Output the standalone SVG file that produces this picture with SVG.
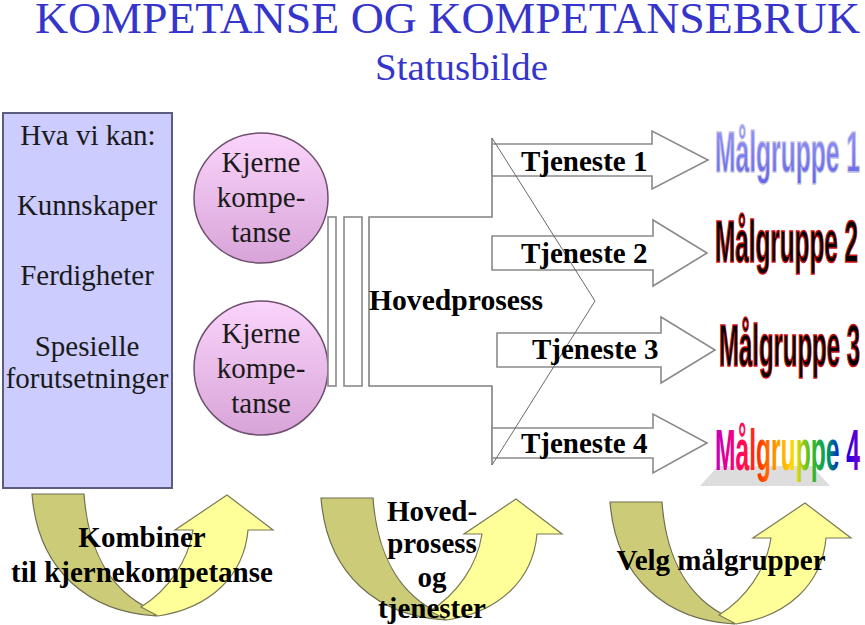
<svg xmlns="http://www.w3.org/2000/svg" width="865" height="625" viewBox="0 0 865 625">
<style>
.title{fill:#3535cc;font-family:"Liberation Serif",serif;font-weight:normal;}
.lbl{font-family:"Liberation Serif",serif;font-weight:normal;font-size:29px;fill:#1a1a1a;text-anchor:middle;}
.blbl{font-family:"Liberation Serif",serif;font-size:29px;font-weight:bold;fill:#000;}
.barrow{fill:#fff;stroke:#8a8a8a;stroke-width:1.6;}
.bar{fill:#fff;stroke:#8a8a8a;stroke-width:1.6;}
.conn{fill:none;stroke:#808080;stroke-width:1.6;}
.diag{fill:none;stroke:#6a6a6a;stroke-width:1;}
.wa{font-family:"Liberation Sans",Arial,sans-serif;font-weight:bold;}
.olive{fill:#cccc78;stroke:#6e6e50;stroke-width:1.2;}
.yellow{fill:#ffff99;stroke:#7a7a55;stroke-width:1.2;}
.circ{fill:url(#pink);stroke:#6e4f6e;stroke-width:1.5;}
</style>
<defs>
<linearGradient id="pink" x1="0" y1="0" x2="0" y2="1">
<stop offset="0" stop-color="#fad4fa"/>
<stop offset="1" stop-color="#d8a4d8"/>
</linearGradient>
<linearGradient id="rainbow" gradientUnits="userSpaceOnUse" x1="0" y1="0" x2="145" y2="0">
<stop offset="0" stop-color="#c000c0"/>
<stop offset="0.15" stop-color="#ff0070"/>
<stop offset="0.3" stop-color="#ff3300"/>
<stop offset="0.42" stop-color="#ff9900"/>
<stop offset="0.55" stop-color="#ffdd00"/>
<stop offset="0.66" stop-color="#44bb22"/>
<stop offset="0.78" stop-color="#009966"/>
<stop offset="0.88" stop-color="#0000ee"/>
<stop offset="1" stop-color="#7700cc"/>
</linearGradient>
<linearGradient id="blueWA" x1="0" y1="0" x2="0" y2="1">
<stop offset="0" stop-color="#9a9aff"/>
<stop offset="1" stop-color="#6464e8"/>
</linearGradient>
<g id="uturn">
<path class="olive" d="M32,494 L84,494 C88,550 110,590 150,609 L156,616 C90,612 38,572 32,494 Z"/>
<path class="yellow" d="M141,607 C168,590 188,562 193,530 L175,530 L227,495 L273,530 L248,530 C244,576 210,608 158,616 Z"/>
</g>
</defs>

<g id="title">
<text class="title" x="35" y="33" font-size="44" textLength="825" lengthAdjust="spacingAndGlyphs">KOMPETANSE OG KOMPETANSEBRUK</text>
<text class="title" x="375" y="80" font-size="38" textLength="173" lengthAdjust="spacingAndGlyphs">Statusbilde</text>
</g>

<g id="node-hva">
<rect x="3" y="113" width="169" height="375" fill="#ccccff" stroke="#5c5c7c" stroke-width="2"/>
<text class="lbl" x="88" y="145">Hva vi kan:</text>
<text class="lbl" x="87" y="215">Kunnskaper</text>
<text class="lbl" x="87" y="285">Ferdigheter</text>
<text class="lbl" x="87" y="356">Spesielle</text>
<text class="lbl" x="87" y="388">forutsetninger</text>
</g>

<g id="node-kjerne1">
<ellipse class="circ" cx="261" cy="198" rx="67" ry="65"/>
<text class="lbl" x="261" y="172">Kjerne</text>
<text class="lbl" x="261" y="207">kompe-</text>
<text class="lbl" x="261" y="242">tanse</text>
</g>

<g id="node-kjerne2">
<ellipse class="circ" cx="261" cy="368" rx="67" ry="67"/>
<text class="lbl" x="261" y="343">Kjerne</text>
<text class="lbl" x="261" y="378">kompe-</text>
<text class="lbl" x="261" y="413">tanse</text>
</g>

<g id="connectors">
<rect class="bar" x="328" y="217" width="8" height="169"/>
<rect class="bar" x="344" y="217" width="18" height="169"/>
<path class="conn" d="M492,138 V217 H369 V386 H492 V465"/>
</g>

<g id="node-tjeneste1">
<path class="barrow" d="M492,144 H652 V131 L708,160 L652,189 V176 H492 Z"/>
</g>
<g id="node-tjeneste2">
<path class="barrow" d="M492,236 H653 V220 L707,253 L653,286 V270 H492 Z"/>
</g>
<g id="node-tjeneste3">
<path class="barrow" d="M497,333 H661 V317 L715,350 L661,383 V367 H497 Z"/>
</g>
<g id="node-tjeneste4">
<path class="barrow" d="M492,428 H653 V414 L707,443 L653,473 V458 H492 Z"/>
</g>

<g id="connector-fan">
<path class="diag" d="M492,138 L595,301 L492,465"/>
</g>

<g id="node-hovedprosess">
<text class="blbl" x="369" y="310" textLength="174" lengthAdjust="spacingAndGlyphs">Hovedprosess</text>
</g>
<g id="labels-tjeneste">
<text class="blbl" x="521" y="171">Tjeneste 1</text>
<text class="blbl" x="521" y="263">Tjeneste 2</text>
<text class="blbl" x="532" y="359">Tjeneste 3</text>
<text class="blbl" x="521" y="453">Tjeneste 4</text>
</g>

<g id="node-malgruppe1">
<text class="wa" transform="translate(715,172) scale(1,1.15)" x="0" y="0" font-size="50" textLength="145" lengthAdjust="spacingAndGlyphs" fill="url(#blueWA)" stroke="#c4c4dc" stroke-width="1.2">M&#229;lgruppe 1</text>
</g>
<g id="node-malgruppe2">
<text class="wa" transform="translate(715,262) scale(1,1.35)" x="0" y="0" font-size="44" textLength="143" lengthAdjust="spacingAndGlyphs" fill="#000" stroke="#d01010" stroke-width="1.2">M&#229;lgruppe 2</text>
</g>
<g id="node-malgruppe3">
<text class="wa" transform="translate(719,366) scale(1,1.35)" x="0" y="0" font-size="44" textLength="141" lengthAdjust="spacingAndGlyphs" fill="#000" stroke="#d01010" stroke-width="1.2">M&#229;lgruppe 3</text>
</g>
<g id="node-malgruppe4">
<polygon points="718,466 812,466 830,486 700,486" fill="#d4d4d4" opacity="0.8"/>
<text class="wa" transform="translate(715,470) scale(1,1.15)" x="0" y="0" font-size="50" textLength="145" lengthAdjust="spacingAndGlyphs" fill="url(#rainbow)">M&#229;lgruppe 4</text>
</g>

<g id="node-uturn1">
<use href="#uturn"/>
<text class="blbl" x="142" y="547" text-anchor="middle" font-size="30">Kombiner</text>
<text class="blbl" x="142" y="582" text-anchor="middle" font-size="30">til kjernekompetanse</text>
</g>
<g id="node-uturn2">
<use href="#uturn" transform="translate(289,4)"/>
<text class="blbl" x="432" y="521" text-anchor="middle">Hoved-</text>
<text class="blbl" x="432" y="553" text-anchor="middle">prosess</text>
<text class="blbl" x="432" y="587" text-anchor="middle">og</text>
<text class="blbl" x="432" y="618" text-anchor="middle">tjenester</text>
</g>
<g id="node-uturn3">
<use href="#uturn" transform="translate(578,8)"/>
<text class="blbl" x="721" y="570" text-anchor="middle" font-size="30">Velg m&#229;lgrupper</text>
</g>
</svg>
